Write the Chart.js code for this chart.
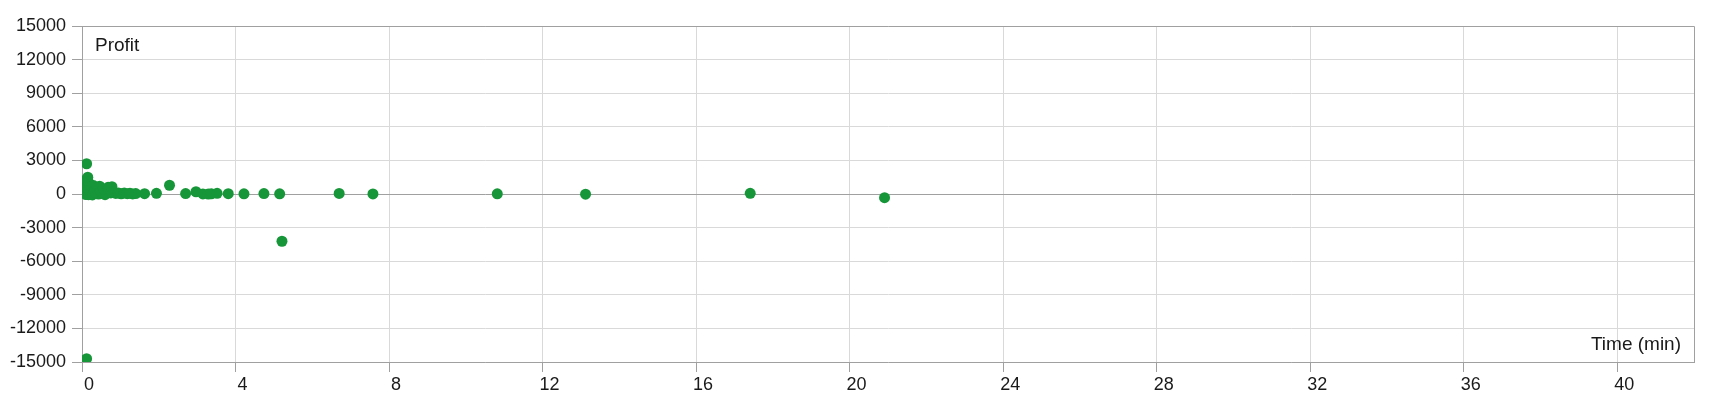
<!DOCTYPE html>
<html>
<head>
<meta charset="utf-8">
<script src="https://cdn.jsdelivr.net/npm/chart.js@4"></script>
<style>
  html, body { margin: 0; padding: 0; background: #fff; }
  #wrap { width: 1720px; height: 400px; }
</style>
</head>
<body>
<div id="wrap"><canvas id="chart" width="1720" height="400"></canvas></div>
<script>
// trade duration (min) vs profit
const times = [
  0.12, 0.12, 0.04, 0.05, 0.06, 0.07, 0.08, 0.09, 0.10, 0.11, 0.13, 0.14, 0.15, 0.16,
  0.17, 0.18, 0.19, 0.20, 0.22, 0.24, 0.25, 0.27, 0.30, 0.32, 0.33, 0.36, 0.38, 0.40,
  0.43, 0.46, 0.48, 0.50, 0.55, 0.60, 0.65, 0.68, 0.70, 0.75, 0.78, 0.82, 0.88, 0.95,
  1.02, 1.10, 1.18, 1.25, 1.32, 1.40, 1.63, 1.94, 2.28, 2.70, 2.97, 3.15, 3.29, 3.37,
  3.52, 3.81, 4.22, 4.74, 5.15, 5.21, 6.70, 7.58, 10.82, 13.12, 17.41, 20.91
];
const profits = [
  2700, -14700, 300, 900, 100, 1200, 500, 700, -50, 250, 600, 1300, 1500, 1100,
  -60, 400, 900, 800, 150, 500, 650, -80, 750, 200, 300, 100, 450, 550,
  0, 700, 300, 200, 50, -60, 150, 600, 400, 100, 650, 200, 50, 100,
  20, 80, 30, 60, 10, 40, 30, 60, 780, 40, 200, 10, 0, 20,
  60, 30, 20, 40, 20, -4220, 50, 10, 20, -20, 60, -330
];
const yTicks = { min: -15000, max: 15000, step: 3000 };
const xTicks = { min: 0, max: 42, step: 4 };
const yTitle = 'Profit';
const xTitle = 'Time (min)';

const FONT = '"Liberation Sans", Arial, sans-serif';
const TEXT = '#1a1a1a';
const GRID = '#d9d9d9';
const AXIS = '#a0a0a0';
const DOT = '#179639';

const points = times.map((t, i) => ({ x: t, y: profits[i] }));

// frame + in-plot axis titles
const framePlugin = {
  id: 'frame',
  afterDraw(chart) {
    const { ctx, chartArea: a } = chart;
    ctx.save();
    ctx.strokeStyle = AXIS;
    ctx.lineWidth = 1;
    ctx.beginPath();
    ctx.moveTo(a.left, a.top + 0.5);
    ctx.lineTo(a.right + 0.5, a.top + 0.5);
    ctx.lineTo(a.right + 0.5, a.bottom);
    ctx.stroke();
    ctx.fillStyle = TEXT;
    ctx.font = '19px ' + FONT;
    ctx.textBaseline = 'alphabetic';
    ctx.textAlign = 'left';
    ctx.fillText(yTitle, 95, 51);
    ctx.textAlign = 'right';
    ctx.fillText(xTitle, 1681, 350);
    ctx.restore();
  }
};

new Chart(document.getElementById('chart'), {
  type: 'scatter',
  data: {
    datasets: [{
      data: points,
      backgroundColor: DOT,
      borderColor: DOT,
      borderWidth: 0,
      pointRadius: 5.5,
      pointHoverRadius: 5.5,
      showLine: false
    }]
  },
  options: {
    responsive: false,
    animation: false,
    layout: { padding: { left: 0, top: 26, right: 26, bottom: 0 } },
    plugins: {
      legend: { display: false },
      tooltip: { enabled: false }
    },
    scales: {
      x: {
        type: 'linear',
        min: xTicks.min,
        max: xTicks.max,
        afterFit: (scale) => { scale.height = 38; },
        border: { color: AXIS },
        grid: { color: GRID, tickColor: AXIS, tickLength: 10 },
        ticks: {
          stepSize: xTicks.step,
          includeBounds: false,
          color: TEXT,
          font: { family: FONT, size: 18 },
          padding: 2,
          labelOffset: 7,
          maxRotation: 0,
          callback: (v) => String(v)
        }
      },
      y: {
        min: yTicks.min,
        max: yTicks.max,
        afterFit: (scale) => { scale.width = 82; },
        border: { color: AXIS },
        grid: {
          color: (c) => (c.tick && c.tick.value === 0 ? AXIS : GRID),
          tickColor: AXIS,
          tickLength: 10
        },
        ticks: {
          stepSize: yTicks.step,
          color: TEXT,
          font: { family: FONT, size: 18 },
          padding: 6,
          callback: (v) => String(v)
        }
      }
    }
  },
  plugins: [framePlugin]
});
</script>
</body>
</html>
